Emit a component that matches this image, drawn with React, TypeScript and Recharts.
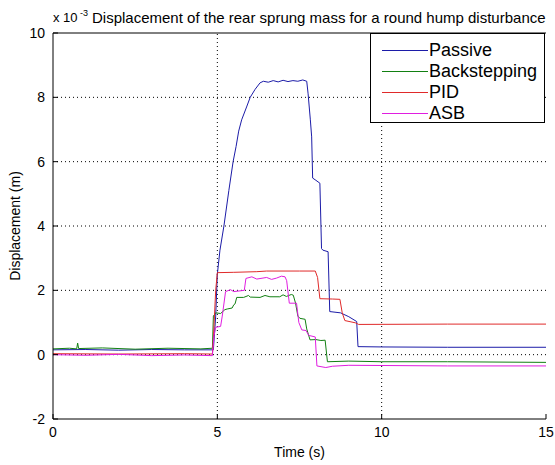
import React from 'react';
import { LineChart, Line, XAxis, YAxis, Legend, Customized, ReferenceLine } from 'recharts';

// time (s), displacement (x 1e-3 m)
const passive: [number, number][] = [
  [0, 0.15], [1, 0.16], [2, 0.14], [3, 0.16], [4, 0.15], [4.88, 0.15], [4.95, 1.2], [5.0, 2.5], [5.08, 3.25],
  [5.2, 4.0], [5.35, 5.1], [5.48, 6.0], [5.57, 6.47], [5.65, 6.95], [5.74, 7.3], [5.89, 7.7], [6.0, 8.0],
  [6.15, 8.25], [6.3, 8.45], [6.4, 8.5], [6.55, 8.47], [6.7, 8.52], [6.85, 8.48], [7.0, 8.53], [7.15, 8.49],
  [7.3, 8.52], [7.45, 8.5], [7.6, 8.54], [7.72, 8.5], [7.76, 8.13], [7.83, 7.3], [7.87, 6.77], [7.9, 5.49],
  [8.0, 5.42], [8.12, 5.33], [8.17, 3.3], [8.21, 3.25], [8.37, 3.2], [8.42, 1.34], [8.75, 1.3], [9.0, 1.18],
  [9.24, 1.03], [9.28, 0.25], [10, 0.24], [12, 0.23], [15, 0.23],
];
const backstepping: [number, number][] = [
  [0, 0.18], [0.5, 0.2], [0.72, 0.18], [0.75, 0.36], [0.78, 0.19], [1.5, 0.21], [2.5, 0.17], [3.5, 0.2],
  [4.5, 0.18], [4.85, 0.2], [4.88, 1.2], [4.95, 1.3], [5.1, 1.28], [5.23, 1.4], [5.3, 1.42], [5.45, 1.45],
  [5.5, 1.55], [5.54, 1.58], [5.59, 1.78], [5.8, 1.78], [5.95, 1.84], [6.0, 1.79], [6.3, 1.78], [6.45, 1.84],
  [6.6, 1.8], [6.9, 1.8], [7.0, 1.86], [7.1, 1.81], [7.25, 1.87], [7.31, 1.85], [7.38, 1.6], [7.45, 1.2],
  [7.51, 1.13], [7.67, 1.1], [7.72, 0.8], [7.82, 0.46], [8.0, 0.47], [8.15, 0.44], [8.28, 0.45], [8.35, -0.22],
  [9, -0.2], [10, -0.22], [12, -0.22], [15, -0.24],
];
const pid: [number, number][] = [
  [0, 0.03], [2, 0.02], [4, 0.03], [4.85, 0.02], [4.88, 0.5], [4.95, 2.0], [5.0, 2.55], [5.5, 2.56],
  [6.2, 2.58], [6.5, 2.6], [7.5, 2.6], [7.98, 2.6], [8.05, 2.4], [8.12, 1.74], [8.5, 1.73], [8.73, 1.72],
  [8.8, 1.3], [8.88, 1.06], [9.2, 0.99], [9.3, 0.94], [12, 0.95], [15, 0.95],
];
const asb: [number, number][] = [
  [0, 0.0], [1, -0.02], [2, 0.01], [3, -0.03], [4, -0.01], [4.85, -0.03], [4.9, 0.6], [4.95, 0.85],
  [5.1, 0.88], [5.15, 1.2], [5.25, 1.96], [5.4, 2.02], [5.5, 1.96], [5.82, 2.0], [5.87, 2.37], [6.05, 2.42],
  [6.2, 2.35], [6.5, 2.4], [6.65, 2.34], [6.8, 2.38], [6.95, 2.44], [7.06, 2.42], [7.11, 2.3], [7.19, 1.6],
  [7.41, 1.6], [7.48, 1.0], [7.57, 0.77], [7.7, 0.75], [7.78, 0.6], [7.98, 0.55], [8.03, -0.35], [8.3, -0.4],
  [8.5, -0.36], [9, -0.33], [12, -0.35], [15, -0.35],
];

const seriesNames = ['Passive', 'Backstepping', 'PID', 'ASB'];
const seriesColors = ['#1c1ca8', '#128012', '#e02a2a', '#e01ee0'];
const seriesData = [passive, backstepping, pid, asb];

const xTicks = [0, 5, 10, 15];
const yTicks = [-2, 0, 2, 4, 6, 8, 10];

const titleText = 'Displacement of the rear sprung mass for a round hump disturbance';
const xLabel = 'Time (s)';
const yLabel = 'Displacement (m)';

const FONT = '"Liberation Sans", Arial, Helvetica, sans-serif';

const CHART_W = 555;
const CHART_H = 465;
const MARGIN = { top: 33, right: 9, bottom: 0, left: 0 };
const Y_AXIS_W = 53;
const X_AXIS_H = 46;
const PLOT_LEFT = MARGIN.left + Y_AXIS_W;
const PLOT_TOP = MARGIN.top;
const PLOT_W = CHART_W - PLOT_LEFT - MARGIN.right;
const PLOT_H = CHART_H - MARGIN.top - MARGIN.bottom - X_AXIS_H;

const toRows = (arr: [number, number][]) => arr.map(([t, v]) => ({ t, v }));

const LegendBox = (props: any) => {
  const payload = [...(props.payload || [])].sort(
    (a: any, b: any) => seriesNames.indexOf(a.value) - seriesNames.indexOf(b.value)
  );
  return (
    <div
      style={{
        width: 175,
        height: 90,
        boxSizing: 'border-box',
        border: '1px solid #000',
        background: '#fff',
        paddingTop: 6,
        fontFamily: FONT,
        fontSize: 18,
        color: '#000',
      }}
    >
      {payload.map((p: any) => (
        <div key={p.value} style={{ display: 'flex', alignItems: 'center', height: 21, lineHeight: '21px' }}>
          <svg width={58} height={21} style={{ display: 'block', flex: 'none' }}>
            <line x1={11} x2={57} y1={10.5} y2={10.5} stroke={p.color} strokeWidth={1} />
          </svg>
          <span style={{ whiteSpace: 'nowrap' }}>{p.value}</span>
        </div>
      ))}
    </div>
  );
};

const Texts = () => {
  const cy = PLOT_TOP + PLOT_H / 2;
  return (
    <g fontFamily={FONT} fill="#000">
      <text x={PLOT_LEFT} y={PLOT_TOP - 11} fontSize={13}>x 10</text>
      <text x={PLOT_LEFT + 27} y={PLOT_TOP - 17} fontSize={9}>-3</text>
      <text x={PLOT_LEFT + 39} y={PLOT_TOP - 10} fontSize={15}>{titleText}</text>
      <text x={20} y={cy} fontSize={14} textAnchor="middle" transform={`rotate(-90, 20, ${cy})`}>
        {yLabel}
      </text>
      <text x={PLOT_LEFT + PLOT_W / 2} y={PLOT_TOP + PLOT_H + 38} fontSize={14} textAnchor="middle">
        {xLabel}
      </text>
    </g>
  );
};

export default function App() {
  const innerX = xTicks.slice(1, -1);
  const innerY = yTicks.slice(1, -1);
  return (
    <div style={{ position: 'absolute', left: 0, top: 0, width: CHART_W, height: CHART_H, background: '#fff' }}>
      <LineChart width={CHART_W} height={CHART_H} margin={MARGIN}>
        <XAxis
          xAxisId="b"
          type="number"
          dataKey="t"
          domain={[0, 15]}
          ticks={xTicks}
          allowDataOverflow
          height={X_AXIS_H}
          tickSize={-5}
          tickMargin={13}
          stroke="#000"
          tick={{ fill: '#000', fontSize: 14, fontFamily: FONT }}
        />
        <XAxis
          xAxisId="t"
          orientation="top"
          type="number"
          dataKey="t"
          domain={[0, 15]}
          ticks={xTicks}
          allowDataOverflow
          height={0}
          tickSize={-5}
          tick={false}
          stroke="#000"
        />
        <YAxis
          yAxisId="l"
          type="number"
          domain={[-2, 10]}
          ticks={yTicks}
          allowDataOverflow
          width={Y_AXIS_W}
          tickSize={-5}
          tickMargin={13}
          stroke="#000"
          tick={{ fill: '#000', fontSize: 14, fontFamily: FONT }}
        />
        <YAxis
          yAxisId="r"
          orientation="right"
          type="number"
          domain={[-2, 10]}
          ticks={yTicks}
          allowDataOverflow
          width={0}
          tickSize={-5}
          tick={false}
          stroke="#000"
        />
        {innerX.map((x) => (
          <ReferenceLine key={'gx' + x} xAxisId="b" yAxisId="l" x={x} stroke="#000" strokeDasharray="1 3" />
        ))}
        {innerY.map((y) => (
          <ReferenceLine key={'gy' + y} xAxisId="b" yAxisId="l" y={y} stroke="#000" strokeDasharray="1 3" />
        ))}
        <ReferenceLine xAxisId="b" yAxisId="l" y={10} stroke="#000" strokeWidth={1} />
        {seriesData.map((d, i) => (
          <Line
            key={seriesNames[i]}
            xAxisId="b"
            yAxisId="l"
            data={toRows(d)}
            dataKey="v"
            name={seriesNames[i]}
            stroke={seriesColors[i]}
            strokeWidth={1}
            dot={false}
            activeDot={false}
            type="linear"
            isAnimationActive={false}
          />
        ))}
        <Legend
          layout="vertical"
          align="center"
          verticalAlign="middle"
          content={<LegendBox />}
          wrapperStyle={{ position: 'absolute', left: 370, top: 33, width: 175, height: 90 }}
        />
        <Customized component={Texts} />
      </LineChart>
    </div>
  );
}
